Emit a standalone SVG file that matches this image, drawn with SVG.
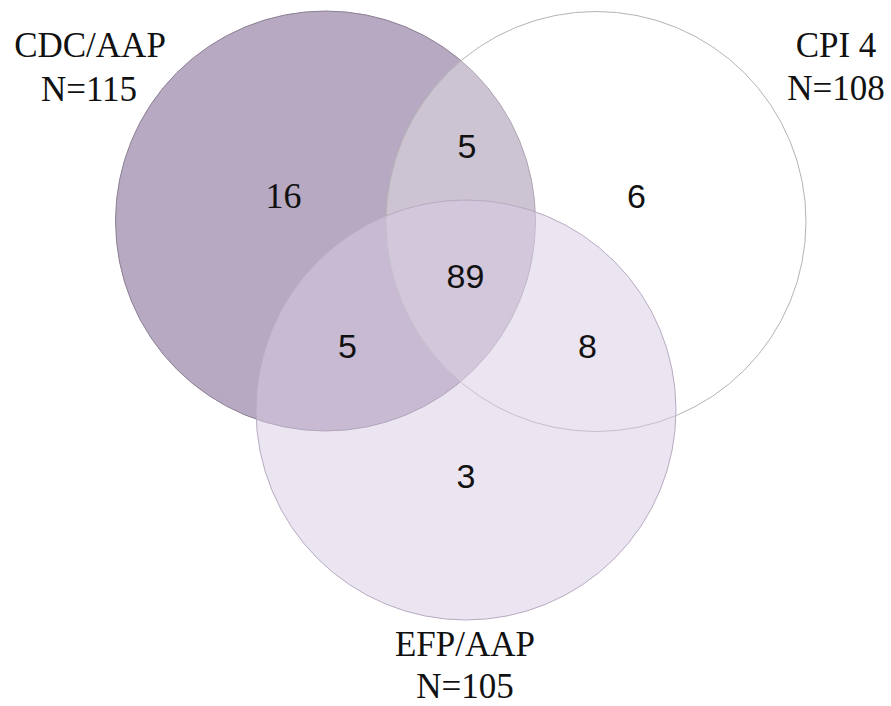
<svg xmlns="http://www.w3.org/2000/svg" width="891" height="706" viewBox="0 0 891 706">
<style>
.lbl{font-family:"Liberation Serif","Times New Roman",serif;font-size:35px;fill:#111;text-anchor:middle}
.num{font-family:"Liberation Sans",Arial,sans-serif;font-size:34px;fill:#111;text-anchor:middle}
.numS{font-family:"Liberation Serif","Times New Roman",serif;font-size:36px;fill:#111;text-anchor:middle}
</style>
<rect width="891" height="706" fill="#ffffff"/>
<g id="cdc">
<circle cx="325.5" cy="221" r="210" fill="#b7a9c1" stroke="#8c8093" stroke-width="1"/>
</g>
<g id="cpi">
<circle cx="596" cy="221.5" r="210" fill="#ffffff" fill-opacity="0.3" stroke="#b4b4b4" stroke-width="1"/>
</g>
<g id="efp">
<circle cx="466" cy="410" r="210" fill="#d8cce3" fill-opacity="0.5" stroke="#b9abc2" stroke-width="1"/>
</g>
<g id="labels">
<text class="lbl" x="90" y="57">CDC/AAP</text>
<text class="lbl" x="89" y="101">N=115</text>
<text class="lbl" x="836" y="57">CPI 4</text>
<text class="lbl" x="836" y="100">N=108</text>
<text class="lbl" x="465" y="656">EFP/AAP</text>
<text class="lbl" x="465" y="698">N=105</text>
</g>
<g id="counts">
<text class="numS" x="283.5" y="208">16</text>
<text class="num" x="467" y="158">5</text>
<text class="num" x="636.5" y="208">6</text>
<text class="num" x="465.5" y="288">89</text>
<text class="num" x="347.5" y="358">5</text>
<text class="num" x="587.5" y="358">8</text>
<text class="num" x="466" y="488">3</text>
</g>
</svg>
